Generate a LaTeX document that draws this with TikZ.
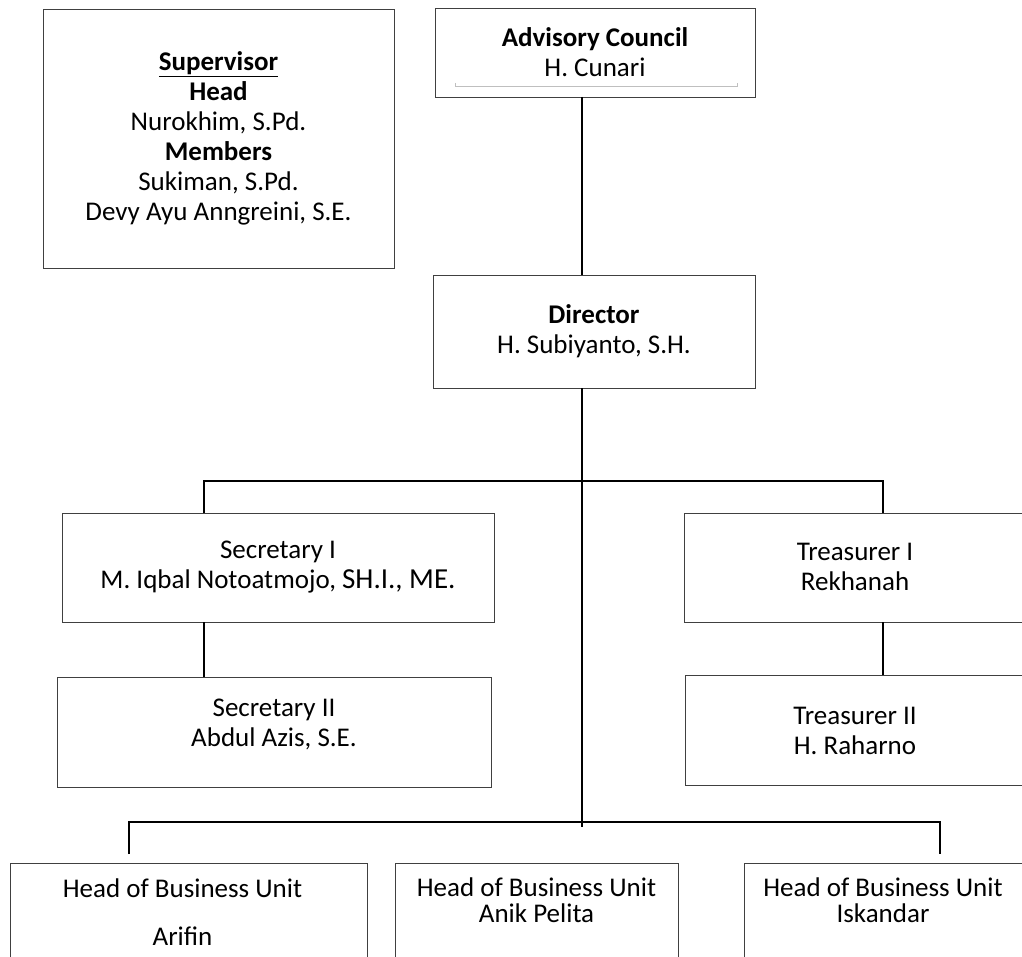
\documentclass[tikz,border=0pt]{standalone}
\usepackage{fontspec}
\setmainfont{Carlito}
\usetikzlibrary{arrows,positioning,calc}

\begin{document}
\begin{tikzpicture}[x=1pt, y=-1pt, line join=miter,
  box node/.style={draw=black!75, line width=0.9pt, rectangle, anchor=north west, outer sep=0pt, inner sep=0pt, align=center, font=\fontsize{27}{30}\selectfont},
  label node/.style={align=center, inner sep=0pt, font=\fontsize{27}{30}\selectfont},
  link/.style={draw=black, line width=1.8pt}]%
\useasboundingbox (0,0) rectangle (1022,957);
\clip (0,0) rectangle (1022,957);
\begin{scope}
\node[box node, minimum width=351, minimum height=259] (supervisor) at (43,9) {\underline{\textbf{Supervisor}}\\ \textbf{Head}\\ Nurokhim, S.Pd.\\ \textbf{Members}\\ Sukiman, S.Pd.\\ Devy Ayu Anngreini, S.E.};
\node[box node, minimum width=320, minimum height=89] (advisory) at (435,8) {\textbf{Advisory Council}\\ H. Cunari};
\node[box node, minimum width=322, minimum height=113] (director) at (433,275) {\textbf{Director}\\ H. Subiyanto, S.H.};
\node[box node, minimum width=432, minimum height=109] (secI) at (62,513) {Secretary I\\ M. Iqbal Notoatmojo, {\fontsize{29}{30}\selectfont SH.I., ME.}};
\node[box node, minimum width=434, minimum height=110] (secII) at (57,677) {Secretary II\\ Abdul Azis, S.E.\\[-12pt]};
\node[box node, minimum width=360, minimum height=109] (treI) at (684,513) {};
\node[box node, minimum width=360, minimum height=110] (treII) at (685,675) {};
\node[box node, minimum width=357, minimum height=120] (unitA) at (10,863) {};
\node[box node, minimum width=283, minimum height=120] (unitB) at (395,863) {};
\node[box node, minimum width=300, minimum height=120] (unitC) at (744,863) {};
\end{scope}
\begin{scope}
\node[label node] (treIlabel) at (855,567) {Treasurer I\\ Rekhanah};
\node[label node] (treIIlabel) at (855,731) {Treasurer II\\ H. Raharno};
\node[label node, anchor=north] (unitAlabel) at ([xshift=-6,yshift=-16]unitA.north) {Head of Business Unit\\[18pt] Arifin};
\node[label node, anchor=north] (unitBlabel) at ([yshift=-15]unitB.north) {Head of Business Unit\\[-4pt] Anik Pelita};
\node[label node, anchor=north] (unitClabel) at ([xshift=-11,yshift=-15]unitC.north) {Head of Business Unit\\[-4pt] Iskandar};
\end{scope}
% thin rule inside the council box
\draw[black!25, line width=0.8pt] (455,83) -- (455,86) -- (737,86) -- (737,83);
\begin{scope}
\coordinate (spine) at (582,481);
\coordinate (spineend) at (582,827);
\coordinate (secbus) at (204,481);
\coordinate (trebus) at (883,481);
\coordinate (unitbusL) at (129,822);
\coordinate (unitbusR) at (940,822);
\draw[link] (advisory.south -| spine) -- (director.north -| spine);
\draw[link] (director.south -| spine) -- (spineend);
\draw[link] (secI.north -| secbus) -- (secbus) -- (trebus) -- (treI.north -| trebus);
\draw[link, line width=1.5pt] (secI.south -| secbus) -- (secII.north -| secbus);
\draw[link, line width=1.5pt] (treI.south -| trebus) -- (treII.north -| trebus);
\draw[link] ([yshift=-32]unitbusL) -- (unitbusL) -- (unitbusR) -- ([yshift=-32]unitbusR);
\end{scope}
\end{tikzpicture}
\end{document}
